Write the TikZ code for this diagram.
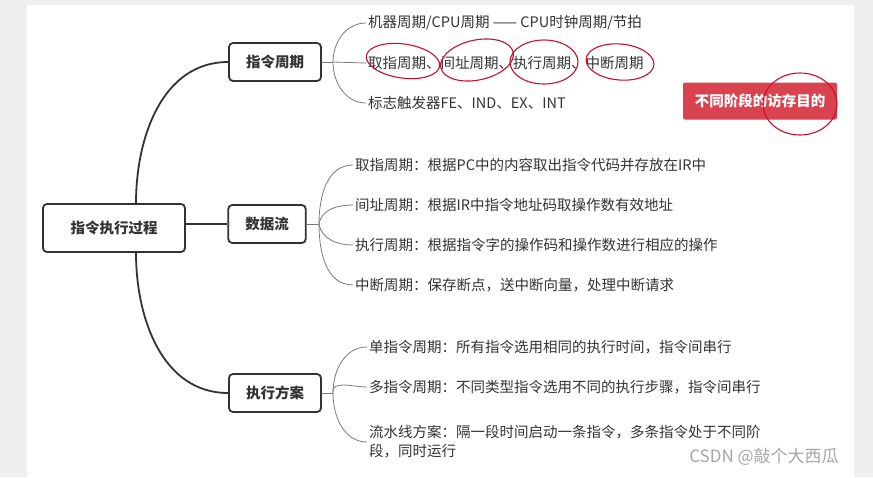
\documentclass[tikz,border=0pt]{standalone}
\usepackage{fontspec}
\setmainfont{Noto Sans CJK SC}
\usetikzlibrary{positioning,shapes}
\usepackage{xcolor}
\definecolor{inkgrey}{HTML}{333333}
\definecolor{branchgrey}{HTML}{7A7A7A}
\definecolor{pagegrey}{HTML}{EFEFEF}
\definecolor{alertred}{HTML}{D8434F}
\definecolor{markred}{HTML}{C4122B}

\begin{document}
\begin{tikzpicture}[x=1pt, y=1pt, every node/.style={
    inner sep=2pt,
    text=inkgrey,
    font=\fontsize{14.5}{19}\selectfont
}, topic/.style={
    rectangle,
    rounded corners=4pt,
    draw=inkgrey,
    line width=1.8pt,
    fill=white,
    inner xsep=17pt,
    minimum height=38pt,
    font=\fontsize{14.5}{19}\selectfont\bfseries
}, leaf/.style={
    anchor=west,
    align=left
}, trunk/.style={
    inkgrey,
    line width=1.8pt
}, branch/.style={
    branchgrey,
    line width=0.8pt
}, circled/.style={
    markred,
    line width=1.1pt
}]

    \useasboundingbox (0, 0) rectangle (873, -477);
    \fill[pagegrey] (0, 0) rectangle (873, -477);
    \fill[white] (27, -5) rectangle (854, -477);



    \node (zhixing_guocheng) [topic, minimum width=142pt, minimum height=48pt, shift={(114, -228)}]
    {
        指令执行过程
    };

    \node (zhiling_zhouqi) [topic, shift={(275, -62)}]
    {
        指令周期
    };

    \node (shuju_liu) [topic, shift={(267, -224)}]
    {
        数据流
    };

    \node (zhixing_fangan) [topic, shift={(275, -393)}]
    {
        执行方案
    };


    \draw[trunk] ([xshift=22pt]zhixing_guocheng.north) to[out=90, in=180] (zhiling_zhouqi.west);
    \draw[trunk] (shuju_liu.west -| zhixing_guocheng.east) -- (shuju_liu.west);
    \draw[trunk] ([xshift=22pt]zhixing_guocheng.south) to[out=-90, in=180] (zhixing_fangan.west);



    \node (jiqi_zhouqi) [leaf, shift={(366, -23)}]
    {
        机器周期/CPU周期 —— CPU时钟周期/节拍
    };

    \node (sige_zhouqi) [leaf, shift={(366, -63)}]
    {
        取指周期、间址周期、执行周期、中断周期
    };

    \node (biaozhi_chufaqi) [leaf, shift={(366, -103)}]
    {
        标志触发器FE、IND、EX、INT
    };

    \node (fangcun_mudi) [fill=alertred, text=white, rounded corners=2pt, minimum width=154pt, minimum height=37pt, font=\fontsize{14.5}{19}\selectfont\bfseries, shift={(760, -101)}]
    {
        不同阶段的访存目的
    };

    \coordinate (zhouqi_fork) at (333, -62);

    \draw[branch] (zhiling_zhouqi.east) -- (zhouqi_fork);
    \draw[branch] (zhouqi_fork) to[out=90, in=180] (jiqi_zhouqi.west);
    \draw[branch] (zhouqi_fork) -- (sige_zhouqi.west);
    \draw[branch] (zhouqi_fork) to[out=-90, in=180] (biaozhi_chufaqi.west);

    \draw[circled] (403, -61) ellipse [x radius=37pt, y radius=17pt, rotate=-8];
    \draw[circled] (477, -60) ellipse [x radius=37pt, y radius=20pt, rotate=12];
    \draw[circled] (544, -62) ellipse [x radius=34pt, y radius=22pt];
    \draw[circled] (620, -62) ellipse [x radius=34pt, y radius=18pt, rotate=-5];
    \draw[circled] (800, -104) ellipse [x radius=37pt, y radius=31pt];



    \node (quzhi_liu) [leaf, shift={(353, -165)}]
    {
        取指周期：根据PC中的内容取出指令代码并存放在IR中
    };

    \node (jianzhi_liu) [leaf, shift={(353, -205)}]
    {
        间址周期：根据IR中指令地址码取操作数有效地址
    };

    \node (zhixing_liu) [leaf, shift={(353, -245)}]
    {
        执行周期：根据指令字的操作码和操作数进行相应的操作
    };

    \node (zhongduan_liu) [leaf, shift={(353, -285)}]
    {
        中断周期：保存断点，送中断向量，处理中断请求
    };

    \coordinate (liu_fork) at (319, -224);

    \draw[branch] (shuju_liu.east) -- (liu_fork);
    \draw[branch] (liu_fork) to[out=90, in=180] (quzhi_liu.west);
    \draw[branch] (liu_fork) to[out=80, in=180] (jianzhi_liu.west);
    \draw[branch] (liu_fork) to[out=-80, in=180] (zhixing_liu.west);
    \draw[branch] (liu_fork) to[out=-90, in=180] (zhongduan_liu.west);



    \node (dan_zhouqi) [leaf, shift={(367, -347)}]
    {
        单指令周期：所有指令选用相同的执行时间，指令间串行
    };

    \node (duo_zhouqi) [leaf, shift={(367, -387)}]
    {
        多指令周期：不同类型指令选用不同的执行步骤，指令间串行
    };

    \node (liushuixian) [leaf, shift={(367, -442)}]
    {
        流水线方案：隔一段时间启动一条指令，多条指令处于不同阶\\段，同时运行
    };

    \coordinate (fangan_fork) at (333, -393);

    \draw[branch] (zhixing_fangan.east) -- (fangan_fork);
    \draw[branch] (fangan_fork) to[out=90, in=180] (dan_zhouqi.west);
    \draw[branch] (fangan_fork) to[out=100, in=180] (duo_zhouqi.west);
    \draw[branch] (fangan_fork) to[out=-90, in=180] (liushuixian.west);



    \node (csdn_mark) [text=black!35, font=\fontsize{17}{20}\selectfont, shift={(764, -457)}]
    {
        CSDN @敲个大西瓜
    };


\end{tikzpicture}
\end{document}
